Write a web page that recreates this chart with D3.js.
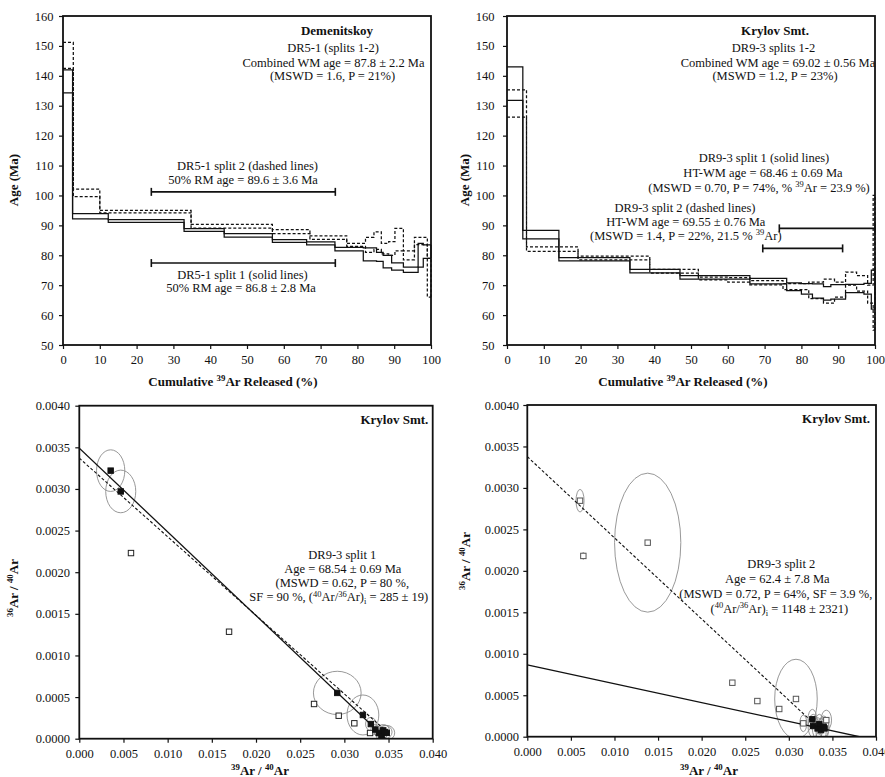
<!DOCTYPE html>
<html lang="en">
<head>
<meta charset="utf-8">
<title>Ar-Ar age spectra and isochrons</title>
<script src="https://d3js.org/d3.v7.min.js"></script>
<style>
body { margin: 0; background: #fff; }
svg { font-family: "Liberation Serif", "Times New Roman", serif; }
</style>
</head>
<body>
<script>
// ---- DR5-1 (Demenitskoy) age spectra: step boundaries (% 39Ar) and age limits (Ma)
var dr51s1Cum = [0, 2.6, 12.3, 32.9, 43.8, 56.9, 66.2, 73.9, 81.6, 85.2, 87.0, 89.3, 92.5, 96.5, 97.9, 100];
var dr51s1Lo  = [134.3, 92.2, 91.0, 88.0, 86.1, 84.3, 83.5, 81.5, 78.1, 78.0, 75.8, 75.0, 74.3, 76.0, 79.0];
var dr51s1Hi  = [142.0, 93.9, 91.9, 88.9, 87.2, 85.2, 84.5, 82.6, 82.5, 81.0, 80.0, 77.5, 76.0, 84.0, 83.5];
var dr51s2Cum = [0, 2.8, 10.0, 34.8, 56.9, 67.1, 77.1, 82.2, 84.5, 86.5, 88.5, 90.2, 92.5, 95.5, 99.0, 100];
var dr51s2Lo  = [142.5, 99.6, 94.2, 89.1, 87.2, 85.3, 83.0, 81.0, 82.0, 80.5, 80.0, 81.5, 78.5, 83.6, 66.0];
var dr51s2Hi  = [151.2, 102.1, 95.0, 90.3, 88.6, 86.5, 84.0, 86.0, 87.8, 84.0, 84.6, 89.0, 81.5, 86.0, 79.0];

// ---- DR9-3 (Krylov Smt.) age spectra
var dr93s1Cum = [0, 4.3, 14.1, 33.4, 47.0, 66.0, 76.0, 80.0, 83.0, 86.0, 88.0, 92.0, 97.0, 99.0, 100];
var dr93s1Lo  = [131.8, 85.5, 78.1, 74.1, 72.0, 70.4, 68.2, 67.0, 65.7, 65.0, 65.3, 67.5, 67.0, 62.0];
var dr93s1Hi  = [143.0, 88.3, 79.2, 75.3, 73.2, 72.3, 70.8, 70.5, 70.4, 69.5, 70.2, 70.3, 70.6, 75.0];
var dr93s2Cum = [0, 5.3, 19.3, 38.8, 52.0, 60.0, 66.0, 75.0, 82.0, 86.0, 89.0, 92.0, 95.0, 98.0, 99.5, 100];
var dr93s2Lo  = [126.2, 81.3, 78.5, 74.0, 71.8, 71.0, 70.1, 68.5, 65.5, 64.0, 66.0, 70.0, 68.0, 64.0, 55.0];
var dr93s2Hi  = [135.3, 82.8, 79.7, 75.3, 72.7, 72.5, 71.5, 70.5, 71.0, 72.0, 71.0, 74.4, 73.2, 70.0, 100.0];

// age bars: [from %, to %, age level]
var dr51Bars = [[24, 74, 101.2], [24, 74, 77.4]];
var dr93Bars = [[74, 100, 89.0], [69.5, 91.2, 82.3]];

// ---- isochron DR9-3 split 1 (x = 39Ar/40Ar, y = 36Ar/40Ar, 1-sigma half axes)
var iso1FillX  = [0.00355, 0.00469, 0.0292, 0.0321, 0.0330, 0.0335, 0.0339, 0.0342, 0.0344, 0.0346, 0.0348];
var iso1FillY  = [0.00322, 0.00297, 0.00055, 0.000285, 0.000176, 0.00011, 0.00007, 0.00004, 0.0001, 0.00008, 0.00007];
var iso1FillSx = [0.0016, 0.0017, 0.0027, 0.0018, 0.0006, 0.0005, 0.0005, 0.0006, 0.0007, 0.0008, 0.0009];
var iso1FillSy = [0.00025, 0.000256, 0.00026, 0.00024, 0.00008, 0.00006, 0.00005, 0.00006, 0.00007, 0.00008, 0.00009];
var iso1OpenX  = [0.00585, 0.01695, 0.02657, 0.02936, 0.03113, 0.03291];
var iso1OpenY  = [0.00223, 0.001285, 0.000417, 0.000276, 0.000185, 0.0000685];
var iso1Solid  = [0.00349, 0.0347];   // y-intercept, x-intercept
var iso1Dashed = [0.00337, 0.0357];
var iso1DashedEnd = 0.0345;

// ---- isochron DR9-3 split 2
var iso2OpenX  = [0.00605, 0.00643, 0.01381, 0.02352, 0.02639, 0.0289, 0.03082, 0.03166, 0.0343];
var iso2OpenY  = [0.002846, 0.00218, 0.00234, 0.000651, 0.00043, 0.000334, 0.000455, 0.000161, 0.0002];
var iso2OpenSx = [0.00046, 0.0002, 0.0038, 0, 0, 0, 0.00244, 0.0004, 0.0006];
var iso2OpenSy = [0.000136, 0.00004, 0.000838, 0, 0, 0, 0.000479, 0.0001, 0.00012];
var iso2FillX  = [0.0327, 0.0328, 0.0333, 0.0335, 0.0337, 0.0340, 0.0341];
var iso2FillY  = [0.00021, 0.00013, 0.0001, 0.00015, 0.00008, 0.00012, 0.0001];
var iso2FillSx = [0.0005, 0.0006, 0.0006, 0.0005, 0.0006, 0.0006, 0.0005];
var iso2FillSy = [0.00012, 0.00014, 0.00013, 0.00012, 0.00014, 0.00013, 0.00012];
var iso2Solid  = [0.000865, 0.0381];
var iso2Dashed = [0.003377, 0.0345];
var iso2DashedEnd = 0.0325;

var ageTicks = d3.range(50, 161, 10);
var cumTicks = d3.range(0, 101, 10);
var ratioYTicks = d3.range(0, 0.00401, 0.0005);
var ratioXTicks = d3.range(0, 0.0401, 0.005);

var W = 885, H = 777, fs = 12.5;
var svg = d3.select("body").append("svg").attr("width", W).attr("height", H);
svg.append("rect").attr("width", W).attr("height", H).attr("fill", "#fff");

// text with super/subscripts: parts are strings or [text, "sup"|"sub"]
function addText(g, x, y, parts, o) {
	o = o || {};
	var size = o.size || fs;
	var t = g.append("text").attr("x", x).attr("y", y)
		.attr("text-anchor", o.anchor || "middle")
		.attr("font-size", size)
		.attr("font-weight", o.bold ? "bold" : "normal")
		.attr("fill", "#111");
	if (o.rotate) t.attr("transform", "rotate(-90," + x + "," + y + ")");
	if (typeof parts === "string") parts = [parts];
	var shift = 0;
	parts.forEach(function(p) {
		var txt = typeof p === "string" ? p : p[0];
		var kind = typeof p === "string" ? "" : p[1];
		var target = kind === "sup" ? -size * 0.36 : kind === "sub" ? size * 0.25 : 0;
		t.append("tspan").attr("dy", target - shift)
			.attr("font-size", kind ? size * 0.68 : size)
			.text(txt);
		shift = target;
	});
	return t;
}

function styleAxis(a) {
	a.attr("font-family", "Liberation Serif, serif").attr("font-size", fs);
	a.select(".domain").remove();
	a.selectAll("text").attr("fill", "#111");
	a.selectAll("line").attr("stroke", "#111").attr("stroke-width", 1.2);
}

function frame(g, w, h) {
	g.append("rect").attr("width", w).attr("height", h)
		.attr("fill", "none").attr("stroke", "#111").attr("stroke-width", 1.8);
}

function spectrumPanel(left, top, w, h, ypad) {
	var g = svg.append("g").attr("transform", "translate(" + left + "," + top + ")");
	var x = d3.scaleLinear().domain([0, 100]).range([0, w]);
	var y = d3.scaleLinear().domain([50, 160]).range([h, 0]);
	g.append("g").call(d3.axisLeft(y).tickValues(ageTicks).tickSize(4).tickPadding(ypad)).call(styleAxis);
	g.append("g").attr("transform", "translate(0," + h + ")")
		.call(d3.axisBottom(x).tickValues(cumTicks).tickSize(4).tickPadding(6.5)).call(styleAxis);
	return { g: g, x: x, y: y, w: w, h: h };
}

function drawSteps(p, cum, lo, hi, dashed) {
	var line = d3.line().x(function(d) { return p.x(d[0]); })
		.y(function(d) { return p.y(d[1]); }).curve(d3.curveStepAfter);
	var n = lo.length;
	[lo, hi].forEach(function(v) {
		var pts = v.map(function(a, i) { return [cum[i], a]; });
		pts.push([cum[n], v[n - 1]]);
		p.g.append("path").attr("d", line(pts))
			.attr("fill", "none").attr("stroke", "#111").attr("stroke-width", 1.25)
			.attr("stroke-dasharray", dashed ? "3,2" : null);
	});
	p.g.append("line")
		.attr("x1", p.x(cum[n])).attr("x2", p.x(cum[n]))
		.attr("y1", p.y(lo[n - 1])).attr("y2", p.y(hi[n - 1]))
		.attr("stroke", "#111").attr("stroke-width", 1.25)
		.attr("stroke-dasharray", dashed ? "3,2" : null);
}

function drawBars(p, bars) {
	bars.forEach(function(b) {
		var yy = p.y(b[2]);
		p.g.append("line").attr("x1", p.x(b[0])).attr("x2", p.x(b[1]))
			.attr("y1", yy).attr("y2", yy).attr("stroke", "#111").attr("stroke-width", 1.6);
		[b[0], b[1]].forEach(function(v) {
			p.g.append("line").attr("x1", p.x(v)).attr("x2", p.x(v))
				.attr("y1", yy - 4).attr("y2", yy + 4).attr("stroke", "#111").attr("stroke-width", 1.6);
		});
	});
}

// ---------------- Panel 1: Demenitskoy
var p1 = spectrumPanel(63, 16, 368, 329, 5.5);
drawSteps(p1, dr51s2Cum, dr51s2Lo, dr51s2Hi, true);
drawSteps(p1, dr51s1Cum, dr51s1Lo, dr51s1Hi, false);
drawBars(p1, dr51Bars);
frame(p1.g, p1.w, p1.h);
addText(p1.g, 274, 18.5, "Demenitskoy", { bold: true, size: 13 });
addText(p1.g, 270, 36, "DR5-1 (splits 1-2)");
addText(p1.g, 270.5, 50.5, "Combined WM age = 87.8 \u00b1 2.2 Ma");
addText(p1.g, 269.5, 64, "(MSWD = 1.6, P = 21%)");
addText(p1.g, 184.5, 154, "DR5-1 split 2 (dashed lines)");
addText(p1.g, 180, 168, "50% RM age = 89.6 \u00b1 3.6 Ma");
addText(p1.g, 179.5, 262.5, "DR5-1 split 1 (solid lines)");
addText(p1.g, 178, 276, "50% RM age = 86.8 \u00b1 2.8 Ma");
addText(svg, 18, 180, "Age (Ma)", { bold: true, size: 13, rotate: true });
addText(svg, 233, 386, ["Cumulative ", ["39", "sup"], "Ar Released (%)"], { bold: true, size: 13 });

// ---------------- Panel 2: Krylov Smt. spectra
var p2 = spectrumPanel(507, 16, 368, 329, 8.4);
drawSteps(p2, dr93s2Cum, dr93s2Lo, dr93s2Hi, true);
drawSteps(p2, dr93s1Cum, dr93s1Lo, dr93s1Hi, false);
drawBars(p2, dr93Bars);
frame(p2.g, p2.w, p2.h);
addText(p2.g, 268, 18.5, "Krylov Smt.", { bold: true, size: 13 });
addText(p2.g, 266.5, 36, "DR9-3 splits 1-2");
addText(p2.g, 271, 50.5, "Combined WM age = 69.02 \u00b1 0.56 Ma");
addText(p2.g, 268, 64, "(MSWD = 1.2, P = 23%)");
addText(p2.g, 257, 146, "DR9-3 split 1 (solid lines)");
addText(p2.g, 256, 161, "HT-WM age = 68.46 \u00b1 0.69 Ma");
addText(p2.g, 252, 175.5, ["(MSWD = 0.70, P = 74%, % ", ["39", "sup"], "Ar = 23.9 %)"]);
addText(p2.g, 178, 196, "DR9-3 split 2 (dashed lines)");
addText(p2.g, 178.8, 209.5, "HT-WM age = 69.55 \u00b1 0.76 Ma");
addText(p2.g, 178.8, 223.5, ["(MSWD = 1.4, P = 22%, 21.5 % ", ["39", "sup"], "Ar)"]);
addText(svg, 469, 180, "Age (Ma)", { bold: true, size: 13, rotate: true });
addText(svg, 683, 386, ["Cumulative ", ["39", "sup"], "Ar Released (%)"], { bold: true, size: 13 });

// ---------------- isochron panels
function isoPanel(left, top, w, h, ypad, id) {
	var g = svg.append("g").attr("transform", "translate(" + left + "," + top + ")");
	var x = d3.scaleLinear().domain([0, 0.04]).range([0, w]);
	var y = d3.scaleLinear().domain([0, 0.004]).range([h, 0]);
	g.append("g").call(d3.axisLeft(y).tickValues(ratioYTicks).tickSize(4).tickPadding(ypad)
		.tickFormat(d3.format(".4f"))).call(styleAxis);
	g.append("g").attr("transform", "translate(0," + h + ")")
		.call(d3.axisBottom(x).tickValues(ratioXTicks).tickSize(4).tickPadding(6.5)
		.tickFormat(d3.format(".3f"))).call(styleAxis);
	g.append("clipPath").attr("id", id).append("rect").attr("width", w).attr("height", h);
	return { g: g, x: x, y: y, w: w, h: h, clip: "url(#" + id + ")" };
}

function drawEllipses(p, xs, ys, sx, sy) {
	p.g.append("g").attr("clip-path", p.clip).selectAll("ellipse")
		.data(xs.map(function(v, i) { return [v, ys[i], sx[i], sy[i]]; })
			.filter(function(d) { return d[2] > 0; }))
		.enter().append("ellipse")
		.attr("cx", function(d) { return p.x(d[0]); })
		.attr("cy", function(d) { return p.y(d[1]); })
		.attr("rx", function(d) { return p.x(d[0] + d[2]) - p.x(d[0]); })
		.attr("ry", function(d) { return p.y(d[1]) - p.y(d[1] + d[3]); })
		.attr("fill", "none").attr("stroke", "#8c8c8c").attr("stroke-width", 0.9);
}

function drawIsoLine(p, coef, xEnd, dashed) {
	var line = d3.line().x(function(d) { return p.x(d[0]); }).y(function(d) { return p.y(d[1]); });
	var pts = [[0, coef[0]], [xEnd, coef[0] * (1 - xEnd / coef[1])]];
	p.g.append("path").attr("d", line(pts)).attr("clip-path", p.clip)
		.attr("fill", "none").attr("stroke", "#111").attr("stroke-width", dashed ? 1.1 : 1.3)
		.attr("stroke-dasharray", dashed ? "3,2" : null);
}

function drawSquares(p, xs, ys, filled, col) {
	p.g.append("g").selectAll("rect")
		.data(xs.map(function(v, i) { return [v, ys[i]]; }))
		.enter().append("rect")
		.attr("x", function(d) { return p.x(d[0]) - 2.7; })
		.attr("y", function(d) { return p.y(d[1]) - 2.7; })
		.attr("width", 5.4).attr("height", 5.4)
		.attr("fill", filled ? "#111" : "#fff")
		.attr("stroke", col).attr("stroke-width", 1);
}

// ---------------- Panel 3: isochron split 1
var p3 = isoPanel(79.3, 405.7, 353.4, 333, 5.3, "c3");
drawEllipses(p3, iso1FillX, iso1FillY, iso1FillSx, iso1FillSy);
drawIsoLine(p3, iso1Dashed, iso1DashedEnd, true);
drawIsoLine(p3, iso1Solid, iso1Solid[1], false);
drawSquares(p3, iso1OpenX, iso1OpenY, false, "#222");
drawSquares(p3, iso1FillX, iso1FillY, true, "#111");
frame(p3.g, p3.w, p3.h);
addText(p3.g, 349, 18, "Krylov Smt.", { bold: true, size: 13, anchor: "end" });
addText(p3.g, 263, 153.3, "DR9-3 split 1");
addText(p3.g, 263.5, 167, "Age = 68.54 \u00b1 0.69 Ma");
addText(p3.g, 263, 181, "(MSWD = 0.62, P = 80 %,");
addText(p3.g, 259.5, 195.5, ["SF = 90 %, (", ["40", "sup"], "Ar/", ["36", "sup"], "Ar)", ["i", "sub"], " = 285 \u00b1 19)"]);
addText(svg, 18, 588, [["36", "sup"], "Ar / ", ["40", "sup"], "Ar"], { bold: true, size: 13, rotate: true });
addText(svg, 260, 774.5, [["39", "sup"], "Ar / ", ["40", "sup"], "Ar"], { bold: true, size: 13 });

// ---------------- Panel 4: isochron split 2
var p4 = isoPanel(527.3, 405, 348.7, 331.7, 4.3, "c4");
drawEllipses(p4, iso2OpenX, iso2OpenY, iso2OpenSx, iso2OpenSy);
drawEllipses(p4, iso2FillX, iso2FillY, iso2FillSx, iso2FillSy);
drawIsoLine(p4, iso2Dashed, iso2DashedEnd, true);
drawIsoLine(p4, iso2Solid, iso2Solid[1], false);
drawSquares(p4, iso2OpenX, iso2OpenY, false, "#555");
drawSquares(p4, iso2FillX, iso2FillY, true, "#111");
frame(p4.g, p4.w, p4.h);
addText(p4.g, 342.7, 17.5, "Krylov Smt.", { bold: true, size: 13, anchor: "end" });
addText(p4.g, 254, 163, "DR9-3 split 2");
addText(p4.g, 250, 178, "Age = 62.4 \u00b1 7.8 Ma");
addText(p4.g, 248.5, 193, "(MSWD = 0.72, P = 64%, SF = 3.9 %,");
addText(p4.g, 252, 207.5, ["(", ["40", "sup"], "Ar/", ["36", "sup"], "Ar)", ["i", "sub"], " = 1148 \u00b1 2321)"]);
addText(svg, 470, 561, [["36", "sup"], "Ar / ", ["40", "sup"], "Ar"], { bold: true, size: 13, rotate: true });
addText(svg, 709, 774.5, [["39", "sup"], "Ar / ", ["40", "sup"], "Ar"], { bold: true, size: 13 });
</script>
</body>
</html>
